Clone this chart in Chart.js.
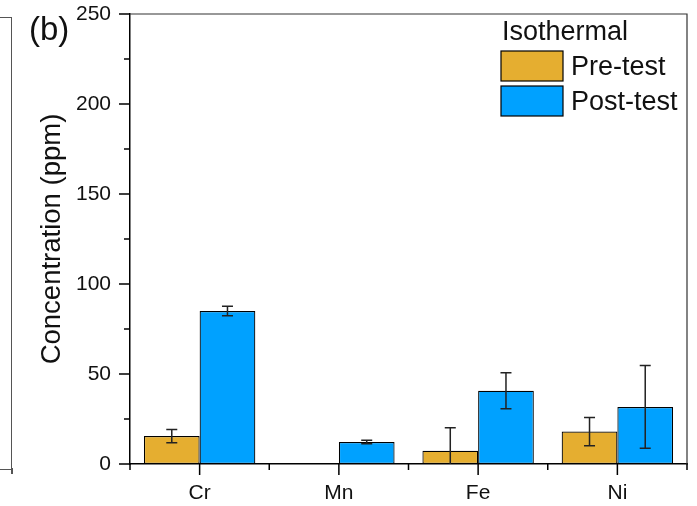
<!DOCTYPE html>
<html>
<head>
<meta charset="utf-8">
<script src="https://cdn.jsdelivr.net/npm/chart.js@4.4.0/dist/chart.umd.min.js"></script>
<style>
  html, body { margin: 0; padding: 0; background: #fff; }
  #wrap { position: relative; width: 697px; height: 506px; }
  /* right edge of neighbouring panel (a) */
  .panelA { position: absolute; left: 0; top: 17px; width: 11px; height: 451px;
            border-top: 1.5px solid #555; border-right: 1.5px solid #555; border-bottom: 1.5px solid #555; }
  .panelA-tick { position: absolute; left: 11px; top: 468px; width: 1.5px; height: 6px; background: #555; }
</style>
</head>
<body>
<div id="wrap">
  <div class="panelA"></div>
  <div class="panelA-tick"></div>
  <canvas id="chart" width="697" height="506"></canvas>
</div>
<script>
// Chart data
const elements = ['Cr', 'Mn', 'Fe', 'Ni'];
const preTest = [15.5, null, 7.4, 18.0];
const preTestErr = [3.7, null, 12.8, 7.8];
const postTest = [85.0, 12.2, 40.7, 31.7];
const postTestErr = [2.7, 1.0, 10.0, 23.0];
const yTicks = [0, 50, 100, 150, 200, 250];
const legendTitle = 'Isothermal';

const FONT = '"Liberation Sans", Arial, sans-serif';
const errors = [preTestErr, postTestErr];

// Error bars, clipped to the plot area
const errorBarPlugin = {
    id: 'errorBars',
    afterDatasetsDraw(chart) {
        const ctx = chart.ctx;
        const y = chart.scales.y;
        const area = chart.chartArea;
        ctx.save();
        ctx.beginPath();
        ctx.rect(area.left, area.top, area.right - area.left, area.bottom - area.top);
        ctx.clip();
        ctx.strokeStyle = '#222';
        ctx.lineWidth = 1.5;
        chart.data.datasets.forEach((ds, di) => {
            const meta = chart.getDatasetMeta(di);
            meta.data.forEach((bar, i) => {
                const v = ds.data[i];
                const e = errors[di][i];
                if (v == null || e == null) return;
                const top = y.getPixelForValue(v + e);
                const bot = y.getPixelForValue(v - e);
                const x = bar.x;
                ctx.beginPath();
                ctx.moveTo(x, top); ctx.lineTo(x, bot);
                ctx.moveTo(x - 5.5, top); ctx.lineTo(x + 5.5, top);
                ctx.moveTo(x - 5.5, bot); ctx.lineTo(x + 5.5, bot);
                ctx.stroke();
            });
        });
        ctx.restore();
    }
};

// Frame, tick marks, panel letter and legend
const framePlugin = {
    id: 'frame',
    afterDraw(chart) {
        const ctx = chart.ctx;
        const a = chart.chartArea;
        const x = chart.scales.x;
        const y = chart.scales.y;
        ctx.save();
        // top & right frame
        ctx.strokeStyle = '#333';
        ctx.lineWidth = 1.2;
        ctx.beginPath();
        ctx.moveTo(a.left, a.top); ctx.lineTo(a.right, a.top); ctx.lineTo(a.right, a.bottom);
        ctx.stroke();

        // y ticks: major every 50, minor every 25
        ctx.strokeStyle = '#000';
        ctx.lineWidth = 1.5;
        ctx.beginPath();
        for (let v = y.min; v <= y.max; v += 25) {
            const py = y.getPixelForValue(v);
            const len = (v % 50 === 0) ? 11 : 6;
            ctx.moveTo(a.left - len, py); ctx.lineTo(a.left, py);
        }
        // x ticks: major at categories, minor at boundaries
        elements.forEach((c, i) => {
            const px = x.getPixelForValue(i);
            ctx.moveTo(px, a.bottom); ctx.lineTo(px, a.bottom + 11);
        });
        for (let i = -0.5; i <= elements.length - 0.5; i += 1) {
            const px = x.getPixelForValue(i);
            ctx.moveTo(px, a.bottom); ctx.lineTo(px, a.bottom + 6);
        }
        ctx.stroke();

        // panel letter
        ctx.fillStyle = '#111';
        ctx.font = '33px ' + FONT;
        ctx.textBaseline = 'middle';
        ctx.textAlign = 'left';
        ctx.fillText('(b)', 29, 31);

        // legend
        const lx = a.right - 186;
        ctx.font = '27px ' + FONT;
        ctx.textBaseline = 'alphabetic';
        ctx.fillText(legendTitle, lx + 1, 40);
        chart.data.datasets.forEach((ds, i) => {
            const top = 51 + i * 35;
            ctx.fillStyle = ds.backgroundColor;
            ctx.fillRect(lx, top, 62, 30);
            ctx.strokeStyle = '#000';
            ctx.lineWidth = 1.2;
            ctx.strokeRect(lx, top, 62, 30);
            ctx.fillStyle = '#111';
            ctx.fillText(ds.label, lx + 70, top + 24);
        });
        ctx.restore();
    }
};

const ctx = document.getElementById('chart');
new Chart(ctx, {
    type: 'bar',
    data: {
        labels: elements,
        datasets: [
            {
                label: 'Pre-test',
                data: preTest,
                backgroundColor: '#E5AE30',
                borderColor: '#000',
                borderWidth: 1.2,
                borderSkipped: false
            },
            {
                label: 'Post-test',
                data: postTest,
                backgroundColor: '#00A1FF',
                borderColor: '#000',
                borderWidth: 1.2,
                borderSkipped: false
            }
        ]
    },
    options: {
        responsive: false,
        animation: false,
        events: [],
        layout: { padding: { top: 14, right: 10, left: 0, bottom: 0 } },
        datasets: { bar: { categoryPercentage: 0.8, barPercentage: 1.0 } },
        plugins: {
            legend: { display: false },
            tooltip: { enabled: false }
        },
        scales: {
            x: {
                grid: { display: false, drawTicks: false, tickLength: 0 },
                border: { display: true, color: '#000', width: 1.5 },
                ticks: { color: '#111', font: { family: FONT, size: 21 }, padding: 17 },
                afterFit(scale) {
                    scale.height = 42;
                    scale.paddingLeft = 0;
                    scale.paddingRight = 0;
                }
            },
            y: {
                min: 0,
                max: 250,
                grid: { display: false, drawTicks: false, tickLength: 0 },
                border: { display: true, color: '#000', width: 1.5 },
                afterBuildTicks(scale) { scale.ticks = yTicks.map(v => ({ value: v })); },
                ticks: { color: '#111', font: { family: FONT, size: 21 }, padding: 19 },
                title: {
                    display: true,
                    text: 'Concentration (ppm)',
                    color: '#111',
                    font: { family: FONT, size: 27.5 },
                    padding: { top: 36, bottom: 0 }
                },
                afterFit(scale) {
                    scale.width = 130;
                    scale.paddingTop = 0;
                    scale.paddingBottom = 0;
                }
            }
        }
    },
    plugins: [errorBarPlugin, framePlugin]
});
</script>
</body>
</html>
